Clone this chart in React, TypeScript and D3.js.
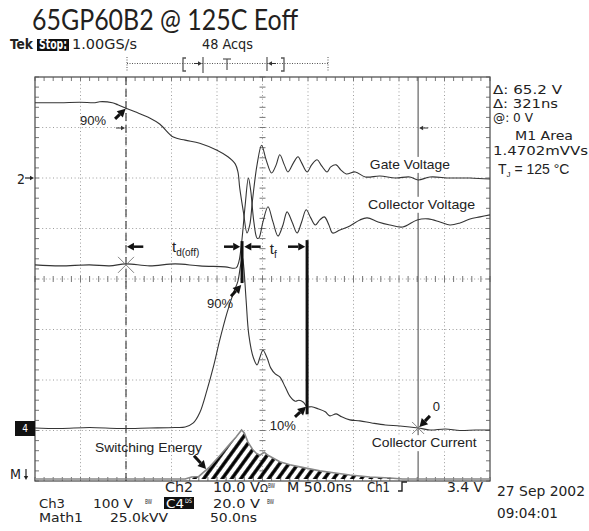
import React from "react";
import * as d3 from "d3";

// Time in ns (50 ns/div, 10 div), vertical position in screen divisions (-4..4)
const gateT = [0, 27.5, 49.5, 66, 71, 85, 91, 100, 110, 126, 137, 152, 165, 181, 200, 212, 220, 223, 225, 229, 233, 236, 239, 244, 249, 254, 260, 265, 269, 274, 278, 284, 289, 293, 299, 304, 310, 315, 321, 325, 331, 336, 342, 352, 363, 379, 396, 412, 421, 434, 456, 478, 500];
const gateDiv = [3.49, 3.49, 3.5, 3.49, 3.51, 3.49, 3.45, 3.38, 3.31, 3.19, 3.07, 2.81, 2.75, 2.69, 2.55, 2.42, 2.28, 2.12, 1.8, 1.33, 0.91, 1.07, 1.56, 2.26, 2.65, 2.36, 2.1, 2.26, 2.46, 2.26, 2.12, 2.3, 2.42, 2.3, 2.12, 2.26, 2.36, 2.24, 2.12, 2.22, 2.26, 2.16, 2.08, 2.12, 2.02, 2.04, 2.0, 2.02, 1.96, 2.02, 2.0, 2.0, 1.98];

const collVT = [0, 27.5, 60, 82, 100, 126, 154, 181, 209, 221, 224, 227, 231, 234.5, 237, 240.5, 244, 246, 250.5, 256, 261.5, 267, 272.5, 277, 282.5, 288, 293, 298, 303, 308, 313, 318, 323, 327, 335, 346, 357, 365, 377, 390, 404, 420, 432, 445, 456, 467, 478, 489, 500];
const collVDiv = [0.28, 0.26, 0.28, 0.26, 0.3, 0.26, 0.3, 0.26, 0.24, 0.22, 0.34, 0.71, 1.47, 2.0, 1.76, 1.13, 0.81, 0.81, 1.13, 1.43, 1.13, 0.85, 1.07, 1.33, 1.13, 0.91, 1.13, 1.37, 1.21, 1.07, 1.17, 1.23, 1.07, 0.91, 0.97, 1.05, 1.17, 1.21, 1.13, 1.07, 1.03, 1.17, 1.19, 1.13, 1.07, 1.11, 1.19, 1.23, 1.27];

const currT = [0, 27.5, 60, 93, 126, 154, 165, 174, 181, 189, 196, 203, 211, 218, 223, 226, 228, 229.5, 232, 235, 240, 244, 247, 250.5, 255, 259, 264, 269, 275, 280, 286, 290, 295, 299, 304, 311, 319, 324, 331, 337, 346, 357, 370, 385, 401, 421, 434, 451, 467, 484, 500];
const currDiv = [-2.95, -2.96, -2.94, -2.96, -2.95, -2.94, -2.93, -2.85, -2.65, -2.2, -1.74, -1.21, -0.67, -0.28, -0.04, 0.28, 0.42, 0.22, -0.42, -1.11, -1.56, -1.7, -1.56, -1.41, -1.56, -1.76, -1.88, -1.94, -2.14, -2.32, -2.42, -2.4, -2.44, -2.53, -2.53, -2.57, -2.63, -2.71, -2.67, -2.73, -2.79, -2.81, -2.85, -2.89, -2.91, -2.95, -2.99, -2.97, -3.0, -2.99, -2.99];

const energyT = [0, 165, 172, 180, 192, 203, 214, 221, 227, 230, 234, 239, 243, 247, 252, 256, 263, 269, 280, 291, 302, 313, 330, 346, 368, 390, 404, 500];
const energyDiv = [-3.96, -3.96, -3.92, -3.91, -3.72, -3.5, -3.27, -3.13, -2.99, -3.05, -3.23, -3.37, -3.45, -3.49, -3.43, -3.49, -3.56, -3.62, -3.68, -3.72, -3.76, -3.8, -3.84, -3.88, -3.92, -3.94, -3.96, -3.96];
const energyBase = -3.96;

const cursorA = 100;
const cursorB = 421;
const tdOffEnd = 227.5;
const tfEnd = 299;

const readouts = ["Δ: 65.2 V", "Δ: 321ns", "@: 0 V", "M1 Area", "1.4702mVVs"];

const WIDTH = 589;
const HEIGHT = 531;
const box = { left: 35, right: 490, top: 77, bottom: 481 };

const SCOPE_FONT = "'DejaVu Sans Condensed', 'DejaVu Sans', sans-serif";
const LABEL_FONT = "'Liberation Sans', Arial, sans-serif";
const TRACE = "#353535";

type Pt = { t: number; v: number };
const zip = (ts: number[], vs: number[]): Pt[] => ts.map((t, i) => ({ t, v: vs[i] }));

function Arrow({ x1, y1, x2, y2, width = 3, head = 8, color = "#111" }: any) {
  const ang = Math.atan2(y2 - y1, x2 - x1);
  const bx = x2 - Math.cos(ang) * head;
  const by = y2 - Math.sin(ang) * head;
  const hw = head * 0.55;
  const px = -Math.sin(ang) * hw;
  const py = Math.cos(ang) * hw;
  return (
    <g>
      <line x1={x1} y1={y1} x2={bx} y2={by} stroke={color} strokeWidth={width} />
      <polygon points={`${x2},${y2} ${bx + px},${by + py} ${bx - px},${by - py}`} fill={color} />
    </g>
  );
}

function ST({ x, y, w, children, size = 13.5, fill = "#222", weight = "normal", anchor = "start" }: any) {
  return (
    <text
      x={x}
      y={y}
      fontFamily={SCOPE_FONT}
      fontSize={size}
      fill={fill}
      fontWeight={weight}
      textAnchor={anchor}
      textLength={w}
      lengthAdjust="spacingAndGlyphs"
    >
      {children}
    </text>
  );
}

function Label({ x, y, w, text }: any) {
  return (
    <g>
      <rect x={x - 3} y={y - 12} width={w + 6} height={16} fill="#fff" />
      <text x={x} y={y} fontFamily={LABEL_FONT} fontSize={13} fill="#222" textLength={w} lengthAdjust="spacingAndGlyphs">
        {text}
      </text>
    </g>
  );
}

export default function App() {
  const x = d3.scaleLinear().domain([0, 500]).range([box.left, box.right]);
  const y = d3.scaleLinear().domain([-4, 4]).range([box.bottom, box.top]);

  const line = d3
    .line<Pt>()
    .x((d) => x(d.t))
    .y((d) => y(d.v))
    .curve(d3.curveCatmullRom.alpha(0.5));

  const energyArea = d3
    .area<Pt>()
    .x((d) => x(d.t))
    .y0(y(energyBase))
    .y1((d) => y(d.v))
    .curve(d3.curveLinear);
  const energyLine = d3
    .line<Pt>()
    .x((d) => x(d.t))
    .y((d) => y(d.v));

  const gate = zip(gateT, gateDiv);
  const collV = zip(collVT, collVDiv);
  const curr = zip(currT, currDiv);
  const energy = zip(energyT, energyDiv);

  const majorX = d3.range(50, 500, 50);
  const majorY = d3.range(-3, 4, 1);
  const minorX = d3.range(0, 501, 10);
  const minorY = d3.range(-4, 4.001, 0.2);

  const gridStyle = { stroke: "#9c9c9c", strokeWidth: 1, strokeDasharray: "1 2.6" };

  return (
    <div style={{ position: "absolute", left: 0, top: 0 }}>
      <svg width={WIDTH} height={HEIGHT} style={{ display: "block", background: "#fff" }}>
        <defs>
          <pattern id="hatch" patternUnits="userSpaceOnUse" width={7.5} height={7.5} patternTransform="rotate(36)">
            <line x1={3.75} y1={0} x2={3.75} y2={7.5} stroke="#000" strokeWidth={3.4} />
          </pattern>
        </defs>

        {/* title */}
        <text x={32} y={30} fontFamily="Lato, 'Open Sans', sans-serif" fontSize={28} fill="#231f20" textLength={266} lengthAdjust="spacingAndGlyphs">
          65GP60B2 @ 125C Eoff
        </text>

        {/* scope header */}
        <ST x={10} y={49} w={23} weight="bold">Tek</ST>
        <rect x={37} y={39} width={32} height={12} fill="#111" />
        <ST x={39} y={49} w={28} fill="#fff" weight="bold">Stop:</ST>
        <ST x={72} y={49} w={65}>1.00GS/s</ST>
        <ST x={202} y={49} w={51}>48 Acqs</ST>

        <g stroke="#555" strokeWidth={1}>
          <line x1={127} y1={63.5} x2={328} y2={63.5} strokeDasharray="1 1.5" />
          <line x1={127} y1={57} x2={127} y2={71} strokeDasharray="1 1.5" />
          <line x1={328} y1={57} x2={328} y2={71} strokeDasharray="1 1.5" />
          <path d="M186,58 H183 V71 H186" fill="none" strokeWidth={1.3} />
          <path d="M281,58 H284 V71 H281" fill="none" strokeWidth={1.3} />
          <line x1={203} y1={57} x2={203} y2={73} strokeWidth={1.2} />
          <line x1={267} y1={57} x2={267} y2={71} strokeWidth={1.2} />
          <line x1={227} y1={59} x2={227} y2={70} strokeWidth={1.2} />
          <line x1={223} y1={59} x2={231} y2={59} strokeWidth={1.2} />
        </g>
        <Arrow x1={194} y1={63.5} x2={202} y2={63.5} width={1} head={4} color="#333" />
        <Arrow x1={276} y1={63.5} x2={268} y2={63.5} width={1} head={4} color="#333" />

        {/* graticule */}
        <g>
          {majorX.map((t) => (
            <line key={"gx" + t} x1={x(t)} x2={x(t)} y1={box.top} y2={box.bottom} style={gridStyle} />
          ))}
          {majorY.map((v) => (
            <line key={"gy" + v} x1={box.left} x2={box.right} y1={y(v)} y2={y(v)} style={gridStyle} />
          ))}
          <g stroke="#777" strokeWidth={1}>
            {minorX.map((t) => (
              <g key={"mx" + t}>
                <line x1={x(t)} x2={x(t)} y1={box.top} y2={box.top + 4} />
                <line x1={x(t)} x2={x(t)} y1={box.bottom} y2={box.bottom - 4} />
                <line x1={x(t)} x2={x(t)} y1={y(0) - 3} y2={y(0) + 3} />
              </g>
            ))}
            {minorY.map((v) => (
              <g key={"my" + v.toFixed(1)}>
                <line x1={box.left} x2={box.left + 4} y1={y(v)} y2={y(v)} />
                <line x1={box.right} x2={box.right - 4} y1={y(v)} y2={y(v)} />
                <line x1={x(250) - 3} x2={x(250) + 3} y1={y(v)} y2={y(v)} />
              </g>
            ))}
          </g>
          <rect x={box.left} y={box.top} width={box.right - box.left} height={box.bottom - box.top} fill="none" stroke="#555" strokeWidth={1.3} />
        </g>

        {/* cursors */}
        <line x1={x(cursorA)} x2={x(cursorA)} y1={box.top} y2={box.bottom} stroke="#444" strokeWidth={1.2} strokeDasharray="8 4" />
        <line x1={x(cursorB)} x2={x(cursorB)} y1={box.top} y2={box.bottom} stroke="#555" strokeWidth={1.1} />
        <Arrow x1={x(cursorA) - 10} y1={y(2.99)} x2={x(cursorA) - 1} y2={y(2.99)} width={1} head={4} color="#333" />
        <Arrow x1={x(cursorB) + 10} y1={y(2.99)} x2={x(cursorB) + 1} y2={y(2.99)} width={1} head={4} color="#333" />

        {/* switching energy (math) */}
        <path d={energyArea(energy) || ""} fill="url(#hatch)" />
        <path d={energyLine(energy) || ""} fill="none" stroke="#888" strokeWidth={1.6} />

        {/* traces */}
        <path d={line(gate) || ""} fill="none" stroke={TRACE} strokeWidth={1.1} />
        <path d={line(collV) || ""} fill="none" stroke={TRACE} strokeWidth={1.1} />
        <path d={line(curr) || ""} fill="none" stroke={TRACE} strokeWidth={1.1} />

        {/* cursor cross marks */}
        <g stroke="#777" strokeWidth={0.9}>
          <line x1={x(cursorA) - 8} y1={y(0.28) - 8} x2={x(cursorA) + 8} y2={y(0.28) + 8} />
          <line x1={x(cursorA) - 8} y1={y(0.28) + 8} x2={x(cursorA) + 8} y2={y(0.28) - 8} />
          <line x1={x(cursorB) - 6} y1={y(-2.95) - 6} x2={x(cursorB) + 6} y2={y(-2.95) + 6} />
          <line x1={x(cursorB) - 6} y1={y(-2.95) + 6} x2={x(cursorB) + 6} y2={y(-2.95) - 6} />
        </g>

        {/* channel markers */}
        <ST x={17} y={184} w={8}>2</ST>
        <Arrow x1={25} y1={y(2)} x2={34} y2={y(2)} width={1.2} head={4} color="#222" />
        <rect x={15} y={421} width={20} height={15} fill="#111" />
        <text x={25} y={432} textAnchor="middle" fontFamily={SCOPE_FONT} fontSize={10} fill="#fff">4</text>
        <ST x={10} y={479} w={11}>M</ST>
        <Arrow x1={26} y1={469} x2={26} y2={480} width={1.2} head={4} color="#222" />

        {/* measurement bars */}
        <line x1={x(tdOffEnd)} x2={x(tdOffEnd)} y1={y(0.75)} y2={y(-0.08)} stroke="#111" strokeWidth={3} />
        <line x1={x(tfEnd)} x2={x(tfEnd)} y1={y(0.77)} y2={y(-2.68)} stroke="#111" strokeWidth={3} />

        {/* annotations */}
        <text x={x(49.5)} y={y(3.05)} fontFamily={LABEL_FONT} fontSize={13} fill="#222">90%</text>
        <Arrow x1={x(88)} y1={y(3.17)} x2={x(99.5)} y2={y(3.37)} width={3} head={8} />

        <Arrow x1={x(119)} y1={y(0.64)} x2={x(101)} y2={y(0.64)} width={2.5} head={7} />
        <text x={x(150.5)} y={y(0.53)} fontFamily={LABEL_FONT} fontSize={15} fill="#222">
          t<tspan fontSize={10} dy={4}>d(off)</tspan>
        </text>
        <Arrow x1={x(207.7)} y1={y(0.64)} x2={x(225.5)} y2={y(0.64)} width={2.5} head={7} />
        <Arrow x1={x(248)} y1={y(0.64)} x2={x(230)} y2={y(0.64)} width={2.5} head={7} />
        <text x={x(258)} y={y(0.5)} fontFamily={LABEL_FONT} fontSize={15} fill="#222">
          t<tspan fontSize={10} dy={4}>f</tspan>
        </text>
        <Arrow x1={x(278)} y1={y(0.64)} x2={x(297)} y2={y(0.64)} width={2.5} head={7} />

        <text x={x(189)} y={y(-0.57)} fontFamily={LABEL_FONT} fontSize={13} fill="#222">90%</text>
        <Arrow x1={x(215.4)} y1={y(-0.34)} x2={x(226.6)} y2={y(-0.12)} width={3} head={8} />

        <text x={x(258)} y={y(-2.99)} fontFamily={LABEL_FONT} fontSize={13} fill="#222">10%</text>
        <Arrow x1={x(285.7)} y1={y(-2.73)} x2={x(297.8)} y2={y(-2.53)} width={3} head={8} />

        <text x={x(437)} y={y(-2.61)} fontFamily={LABEL_FONT} fontSize={13} fill="#222">0</text>
        <Arrow x1={x(434)} y1={y(-2.71)} x2={x(422.5)} y2={y(-2.93)} width={3} head={8} />

        <Label x={x(368)} y={y(2.18)} w={80} text="Gate Voltage" />
        <Label x={x(366)} y={y(1.39)} w={107} text="Collector Voltage" />
        <Label x={x(370)} y={y(-3.33)} w={105} text="Collector Current" />
        <text x={x(66)} y={y(-3.43)} fontFamily={LABEL_FONT} fontSize={13} fill="#222" textLength={107} lengthAdjust="spacingAndGlyphs">
          Switching Energy
        </text>
        <Arrow x1={x(174.7)} y1={y(-3.5)} x2={x(188)} y2={y(-3.76)} width={3} head={8} />

        {/* right readouts */}
        <ST x={493} y={94} w={69} size={12}>{readouts[0]}</ST>
        <ST x={493} y={108} w={65} size={12}>{readouts[1]}</ST>
        <ST x={493} y={122} w={40} size={12}>{readouts[2]}</ST>
        <ST x={515} y={140} w={58} size={12}>{readouts[3]}</ST>
        <ST x={493} y={155} w={95} size={12}>{readouts[4]}</ST>
        <text x={498} y={174} fontFamily={LABEL_FONT} fontSize={14} fill="#222">
          T<tspan fontSize={8} dy={3}>J</tspan>
          <tspan dy={-3}> = 125 °C</tspan>
        </text>

        {/* footer */}
        <ST x={165} y={492} w={28}>Ch2</ST>
        <ST x={213} y={492} w={47}>10.0 V</ST>
        <ST x={260} y={492} w={8} size={11}>Ω</ST>
        <ST x={268} y={488} w={7} size={7}>BW</ST>
        <ST x={287} y={492} w={65}>M 50.0ns</ST>
        <ST x={367} y={492} w={23}>Ch1</ST>
        <path d="M398,491 H402 V482 H407" fill="none" stroke="#222" strokeWidth={1.4} />
        <ST x={447} y={492} w={36}>3.4 V</ST>

        <ST x={39} y={508} w={26} size={12}>Ch3</ST>
        <ST x={93} y={508} w={40} size={12}>100 V</ST>
        <ST x={145} y={504} w={7} size={7}>BW</ST>
        <rect x={164} y={497} width={30} height={12} fill="#111" />
        <ST x={166} y={507.5} w={18} size={12} fill="#fff">C4</ST>
        <ST x={185} y={503} w={7} size={6} fill="#fff">DS</ST>
        <ST x={213} y={508} w={47} size={12}>20.0 V</ST>
        <ST x={267} y={504} w={7} size={7}>BW</ST>

        <ST x={39} y={522} w={44} size={12}>Math1</ST>
        <ST x={110} y={522} w={58} size={12}>25.0kVV</ST>
        <ST x={210} y={522} w={47} size={12}>50.0ns</ST>

        <ST x={497} y={496} w={88}>27 Sep 2002</ST>
        <ST x={497} y={518} w={61}>09:04:01</ST>
      </svg>
    </div>
  );
}
